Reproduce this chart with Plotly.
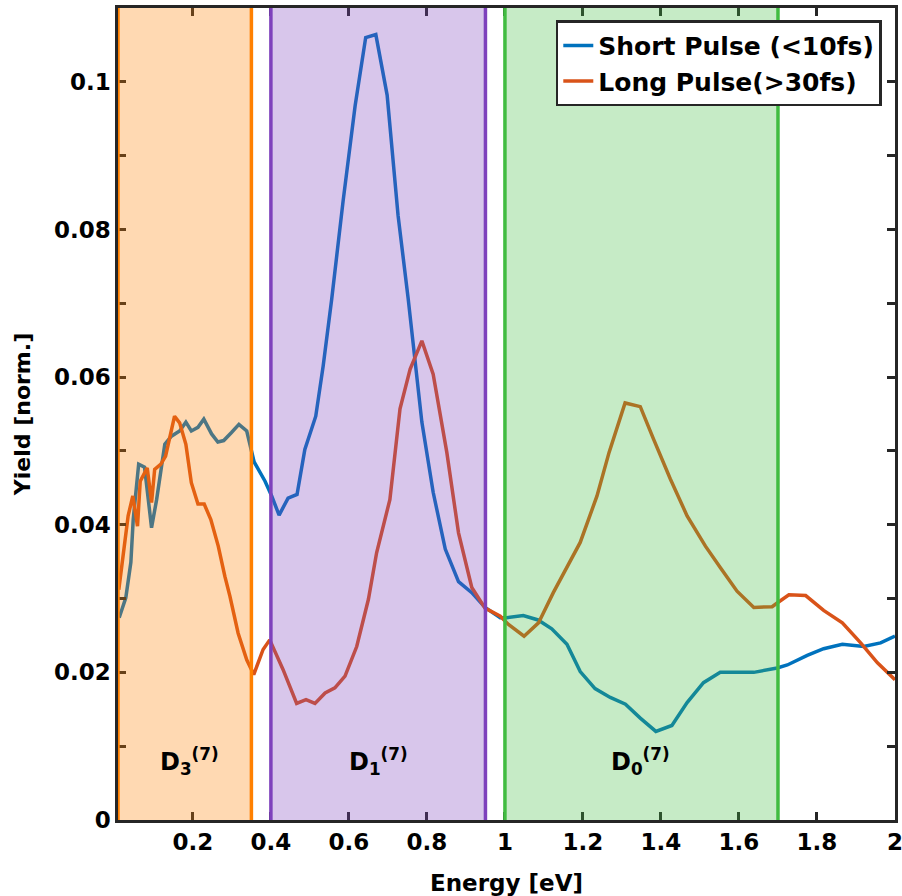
import plotly.graph_objects as go

# Photoelectron yield vs. energy for two pulse durations
energy_short = [0.011, 0.028, 0.041, 0.047, 0.061, 0.076, 0.094, 0.107, 0.128, 0.145,
                0.166, 0.182, 0.196, 0.213, 0.228, 0.248, 0.264, 0.279, 0.299, 0.318,
                0.338, 0.350, 0.357, 0.385, 0.402, 0.421, 0.444, 0.467, 0.487, 0.515,
                0.534, 0.556, 0.585, 0.616, 0.643, 0.669, 0.698, 0.726, 0.752, 0.787,
                0.816, 0.847, 0.881, 0.915, 0.949, 0.988, 1.005, 1.047, 1.085, 1.120,
                1.159, 1.193, 1.231, 1.270, 1.309, 1.347, 1.387, 1.428, 1.467, 1.509,
                1.552, 1.638, 1.698, 1.724, 1.775, 1.817, 1.865, 1.920, 1.963, 2.000]
yield_short = [0.0274, 0.0301, 0.0349, 0.0407, 0.0482, 0.0478, 0.0396, 0.0434, 0.0509, 0.0520,
               0.0527, 0.0539, 0.0527, 0.0532, 0.0543, 0.0523, 0.0512, 0.0514, 0.0525, 0.0536,
               0.0527, 0.0502, 0.0485, 0.0459, 0.0439, 0.0413, 0.0436, 0.0441, 0.0502, 0.0547,
               0.0615, 0.0706, 0.0838, 0.0968, 0.1060, 0.1064, 0.0982, 0.0819, 0.0706, 0.0539,
               0.0444, 0.0367, 0.0323, 0.0308, 0.0288, 0.0274, 0.0274, 0.0277, 0.0271, 0.0259,
               0.0238, 0.0201, 0.0178, 0.0166, 0.0157, 0.0138, 0.0120, 0.0128, 0.0159, 0.0186,
               0.0200, 0.0200, 0.0206, 0.0210, 0.0223, 0.0232, 0.0238, 0.0235, 0.0240, 0.0249]

energy_long = [0.010, 0.034, 0.046, 0.058, 0.065, 0.083, 0.094, 0.102, 0.118, 0.130,
               0.153, 0.166, 0.182, 0.196, 0.213, 0.229, 0.246, 0.265, 0.282, 0.295,
               0.316, 0.338, 0.356, 0.380, 0.397, 0.431, 0.466, 0.490, 0.513, 0.539,
               0.564, 0.590, 0.620, 0.650, 0.671, 0.705, 0.731, 0.757, 0.787, 0.816,
               0.851, 0.881, 0.915, 0.949, 0.988, 1.009, 1.049, 1.086, 1.124, 1.193,
               1.236, 1.267, 1.308, 1.347, 1.381, 1.424, 1.467, 1.514, 1.552, 1.595,
               1.638, 1.685, 1.698, 1.728, 1.771, 1.817, 1.865, 1.912, 1.955, 2.000]
yield_long = [0.0312, 0.0412, 0.0439, 0.0398, 0.0459, 0.0477, 0.0430, 0.0475, 0.0482, 0.0493,
              0.0547, 0.0538, 0.0509, 0.0457, 0.0428, 0.0428, 0.0407, 0.0371, 0.0330, 0.0303,
              0.0253, 0.0217, 0.0197, 0.0231, 0.0244, 0.0204, 0.0158, 0.0163, 0.0158, 0.0172,
              0.0179, 0.0195, 0.0235, 0.0299, 0.0362, 0.0434, 0.0557, 0.0611, 0.0649, 0.0604,
              0.0498, 0.0389, 0.0315, 0.0287, 0.0276, 0.0265, 0.0249, 0.0267, 0.0308, 0.0376,
              0.0439, 0.0498, 0.0565, 0.0560, 0.0516, 0.0462, 0.0412, 0.0371, 0.0342, 0.0310,
              0.0288, 0.0289, 0.0294, 0.0305, 0.0304, 0.0284, 0.0267, 0.0240, 0.0213, 0.0190]

series_names = ["Short Pulse (<10fs)", "Long Pulse(>30fs)"]
series_colors = ["#0072BD", "#D95319"]

# Energy windows of the ionic states
band_labels = ["D<sub>3</sub><sup>(7)</sup>", "D<sub>1</sub><sup>(7)</sup>", "D<sub>0</sub><sup>(7)</sup>"]
band_start = [0.008, 0.40, 1.00]
band_end = [0.35, 0.95, 1.70]
band_rgb = [(255, 128, 0), (126, 65, 188), (65, 188, 65)]
label_x = [0.192, 0.675, 1.347]
label_y = 0.0079

x_range = [0.008, 2.0]
y_range = [0, 0.11]

FONT = "DejaVu Sans"
AXIS_COLOR = "#262626"

fig = go.Figure()
for xs, ys, name, color in [(energy_short, yield_short, series_names[0], series_colors[0]),
                            (energy_long, yield_long, series_names[1], series_colors[1])]:
    fig.add_trace(go.Scatter(x=xs, y=ys, mode="lines", name=name,
                             line=dict(color=color, width=3.5)))

for x0, x1, (r, g, b), text, lx in zip(band_start, band_end, band_rgb, band_labels, label_x):
    fig.add_shape(type="rect", xref="x", yref="y", x0=x0, x1=x1, y0=y_range[0], y1=y_range[1],
                  fillcolor=f"rgba({r},{g},{b},0.3)", line=dict(width=0), layer="above")
    for xv in (x0, x1):
        fig.add_shape(type="line", xref="x", yref="y", x0=xv, x1=xv, y0=y_range[0], y1=y_range[1],
                      line=dict(color=f"rgb({r},{g},{b})", width=3.5), layer="above")
    fig.add_annotation(x=lx, y=label_y, xref="x", yref="y", text=text, showarrow=False,
                       font=dict(family=FONT, size=24, color="black", weight="bold"))

axis_common = dict(showline=True, linecolor=AXIS_COLOR, linewidth=2.5, mirror="ticks",
                   ticks="inside", ticklen=8, tickwidth=2.5, tickcolor=AXIS_COLOR,
                   showgrid=False, zeroline=False, automargin=False,
                   ticklabeloverflow="allow",
                   tickfont=dict(family=FONT, size=23, color="black", weight="bold"))

fig.update_xaxes(range=x_range, tickvals=[0.2, 0.4, 0.6, 0.8, 1.0, 1.2, 1.4, 1.6, 1.8, 2.0],
                 ticktext=["0.2", "0.4", "0.6", "0.8", "1", "1.2", "1.4", "1.6", "1.8", "2"],
                 title=dict(text="Energy [eV]", standoff=22,
                            font=dict(family=FONT, size=23, color="black", weight="bold")),
                 **axis_common)
fig.update_yaxes(range=y_range, dtick=0.02, tick0=0,
                 minor=dict(dtick=0.01, ticks="inside", ticklen=8, tickwidth=2.5,
                            tickcolor=AXIS_COLOR, showgrid=False),
                 title=dict(text="Yield [norm.]", standoff=18,
                            font=dict(family=FONT, size=22, color="black", weight="bold")),
                 **axis_common)

fig.update_layout(
    width=902, height=896,
    margin=dict(l=118, r=7, t=8, b=76),
    plot_bgcolor="white", paper_bgcolor="white",
    legend=dict(x=0.983, y=0.985, xanchor="right", yanchor="top",
                bgcolor="white", bordercolor=AXIS_COLOR, borderwidth=2.5,
                font=dict(family=FONT, size=25, color="black", weight="bold"),
                tracegroupgap=0),
)

fig.write_html("out.html")
